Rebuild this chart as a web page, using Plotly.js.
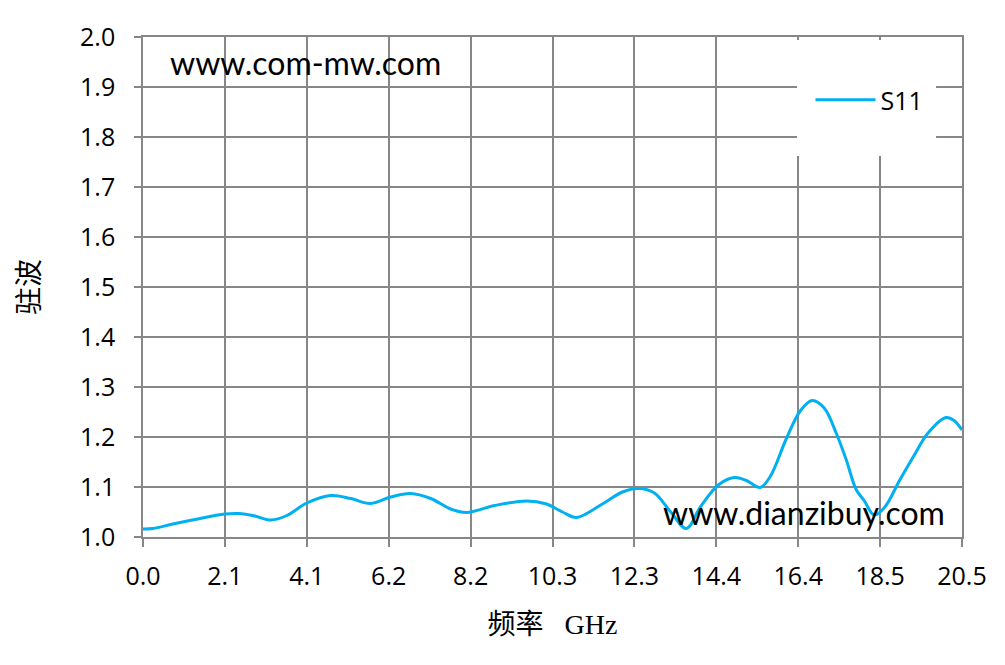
<!DOCTYPE html>
<html>
<head>
<meta charset="utf-8">
<script src="https://cdn.plot.ly/plotly-3.0.1.min.js"></script>
<style>html,body{margin:0;padding:0;background:#fff;}#chart{width:1005px;height:665px;}</style>
</head>
<body>
<div id="chart"></div>
<script>
// Frequency (GHz) and VSWR values
const freqGHz = [0.0, 0.25, 0.75, 1.3, 2.05, 2.4, 2.8, 3.2, 3.6, 4.1, 4.7, 5.2, 5.7, 6.2, 6.7, 7.2, 7.7, 8.1, 8.8, 9.6, 10.1, 10.5, 10.85, 11.5, 12.0, 12.4, 12.8, 13.2, 13.6, 13.95, 14.4, 14.8, 15.1, 15.45, 15.7, 16.1, 16.45, 16.75, 17.05, 17.35, 17.6, 17.85, 18.05, 18.3, 18.55, 18.95, 19.3, 19.65, 20.1, 20.3, 20.5];
const s11 = [1.016, 1.017, 1.026, 1.035, 1.046, 1.047, 1.042, 1.034, 1.043, 1.068, 1.083, 1.077, 1.067, 1.080, 1.087, 1.077, 1.056, 1.049, 1.063, 1.072, 1.066, 1.050, 1.039, 1.066, 1.090, 1.097, 1.088, 1.051, 1.017, 1.060, 1.104, 1.119, 1.113, 1.099, 1.121, 1.196, 1.252, 1.273, 1.258, 1.208, 1.155, 1.095, 1.073, 1.044, 1.058, 1.115, 1.163, 1.208, 1.239, 1.233, 1.214];
const seriesName = 'S11';
const xTickVals = [0, 2.05, 4.1, 6.15, 8.2, 10.25, 12.3, 14.35, 16.4, 18.45, 20.5];
const xTickText = ['0.0', '2.1', '4.1', '6.2', '8.2', '10.3', '12.3', '14.4', '16.4', '18.5', '20.5'];
const yTickVals = [1.0, 1.1, 1.2, 1.3, 1.4, 1.5, 1.6, 1.7, 1.8, 1.9, 2.0];
const xTitle = '频率\u00a0\u00a0\u00a0GHz';
const yTitle = '驻波';
const watermark1 = 'www.com-mw.com';
const watermark2 = 'www.dianzibuy.com';

const tickFont = {family: '"Open Sans", Lato, sans-serif', size: 25, color: '#000'};
const titleFont = {family: '"Liberation Serif", "Noto Sans CJK SC", serif', size: 28, color: '#000'};
const markFont = {family: 'Lato, "Open Sans", sans-serif', size: 32, color: '#000'};
const grid = '#878787';

const trace = {
  x: freqGHz, y: s11, name: seriesName, type: 'scatter', mode: 'lines',
  line: {color: '#00b0f0', width: 3, shape: 'spline', smoothing: 1},
  showlegend: true
};

const layout = {
  width: 1005, height: 665,
  margin: {l: 143, r: 43, t: 37, b: 128},
  paper_bgcolor: '#fff', plot_bgcolor: '#fff',
  font: tickFont,
  xaxis: {
    range: [0, 20.5], tickmode: 'array', tickvals: xTickVals, ticktext: xTickText,
    showgrid: true, gridcolor: grid, gridwidth: 1.6,
    showline: true, linecolor: grid, linewidth: 1.6, mirror: true,
    ticks: 'outside', ticklen: 8, tickwidth: 1.6, tickcolor: grid,
    ticklabelstandoff: 8,
    tickfont: tickFont, zeroline: false,
    title: {text: xTitle, font: titleFont, standoff: 24}
  },
  yaxis: {
    range: [1.0, 2.0], tickmode: 'array', tickvals: yTickVals, tickformat: '.1f',
    showgrid: true, gridcolor: grid, gridwidth: 1.6,
    showline: true, linecolor: grid, linewidth: 1.6, mirror: true,
    ticks: 'outside', ticklen: 7, tickwidth: 1.6, tickcolor: grid,
    ticklabelstandoff: 14,
    tickfont: tickFont, zeroline: false,
    title: {text: yTitle, font: titleFont, standoff: 32}
  },
  shapes: [{
    type: 'rect', xref: 'paper', yref: 'paper', layer: 'above',
    x0: 0.7985, x1: 0.9683, y0: 0.762, y1: 0.994,
    fillcolor: '#fff', line: {width: 0}
  }],
  legend: {
    x: 0.815, y: 0.874, xanchor: 'left', yanchor: 'middle',
    bgcolor: 'rgba(0,0,0,0)', borderwidth: 0,
    font: {family: '"Open Sans", Lato, sans-serif', size: 25, color: '#000'},
    itemwidth: 60
  },
  annotations: [
    {text: watermark1, xref: 'paper', yref: 'paper', x: 0.0305, y: 0.95, xanchor: 'left', yanchor: 'middle',
     showarrow: false, font: markFont},
    {text: watermark2, xref: 'paper', yref: 'paper', x: 0.633, y: 0.05, xanchor: 'left', yanchor: 'middle',
     showarrow: false, font: markFont}
  ]
};

Plotly.newPlot('chart', [trace], layout, {displayModeBar: false, responsive: false});
</script>
</body>
</html>
